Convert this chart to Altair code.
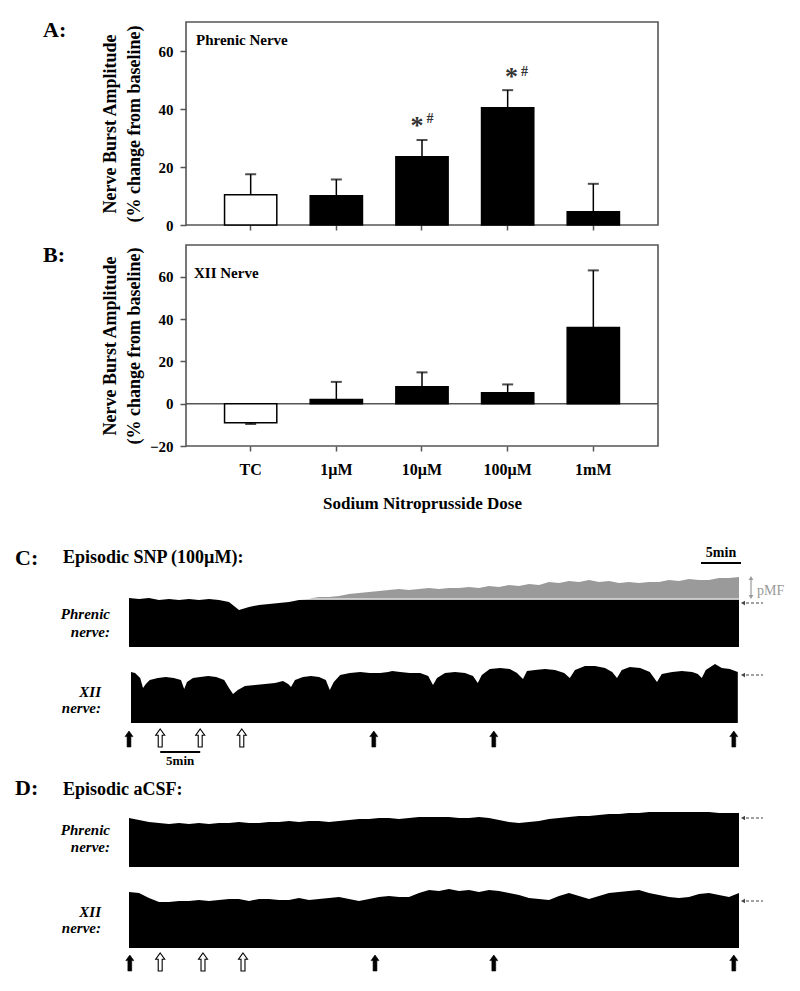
import altair as alt
import pandas as pd

W, H = 784, 975
OFF = 8
SERIF = "Liberation Serif"
FRAME = "#555555"

# ---------------- data: panels A & B ----------------
doses = ["TC", "1µM", "10µM", "100µM", "1mM"]
bar_fill = ["white", "black", "black", "black", "black"]
phrenic_mean = [10.4, 10.1, 23.5, 40.4, 4.6]
phrenic_sem = [7.1, 5.6, 5.8, 6.1, 9.6]
xii_mean = [-9.0, 2.0, 8.0, 5.2, 36.0]
xii_sem = [0.6, 8.3, 6.8, 3.9, 27.0]
sig_doses = ["10µM", "100µM"]
sig_star_y = [31.4, 48.3]
sig_hash_y = [35.2, 51.4]

# ---------------- data: traces (time in min, amplitude in a.u.) ----------------
grid_t = [0, 1.25, 2.5, 3.75, 5, 6.25, 7.5, 8.75, 10, 11.25, 12.5, 13.75, 15, 16.25,
          17.5, 18.75, 20, 21.25, 22.5, 23.75, 25, 26.25, 27.5, 28.75, 30, 31.25, 32.5,
          33.75, 35, 36.25, 37.5, 38.75, 40, 41.25, 42.5, 43.75, 45, 46.25, 47.5, 48.75,
          50, 51.25, 52.5, 53.75, 55, 56.25, 57.5, 58.75, 60, 61.25, 62.5, 63.75, 65,
          66.25, 67.5, 68.75, 70, 71.25, 72.5, 73.75, 75, 76.25]
phrenic_C = [49, 48, 49, 47, 48, 47, 48, 47, 48, 47, 45, 37, 40, 42, 43, 44, 45, 47, 48, 50,
             50, 51, 53, 54, 55, 56, 57, 58, 57, 58, 59, 58, 59, 59, 60, 59, 61, 60, 62, 61,
             63, 62, 65, 64, 66, 65, 67, 65, 66, 64, 65, 64, 65, 65, 67, 66, 68, 67, 67, 69,
             69, 70]
pmf_level = 48.0
pmf_start = 21.25
xii_C_t = [0.25, 0.75, 1.4, 1.75, 2.1, 2.6, 3.6, 4.6, 5.6, 6.5, 6.9, 7.25, 8.0, 8.9, 9.9,
           10.9, 11.9, 12.5, 13.0, 13.6, 14.5, 15.75, 17.0, 18.25, 19.25, 19.9, 20.25,
           20.75, 21.75, 22.75, 23.75, 24.6, 25.1, 25.6, 26.4, 27.6, 28.9, 30.1, 31.4,
           32.4, 32.9, 33.9, 35.1, 36.4, 37.4, 38.0, 38.5, 39.5, 40.75, 42.0, 43.0, 43.6,
           44.1, 45.1, 46.4, 47.6, 48.5, 49.25, 49.75, 50.75, 52.0, 53.25, 54.4, 55.1,
           55.75, 57.0, 58.25, 59.5, 60.4, 61.0, 61.6, 62.6, 63.9, 65.1, 66.0, 66.6, 67.9,
           69.1, 70.4, 71.1, 71.6, 72.1, 73.25, 74.1, 75.1, 76.1]
xii_C = [51, 50, 45, 35, 39, 43, 45, 46, 45, 43, 34, 41, 45, 46, 47, 46, 43, 35, 29, 33,
         37, 38, 39, 40, 42, 39, 36, 43, 46, 47, 46, 43, 33, 41, 48, 50, 51, 50, 50, 51,
         52, 51, 50, 50, 47, 38, 45, 50, 51, 50, 47, 40, 48, 54, 55, 54, 50, 44, 52, 53,
         54, 53, 50, 45, 53, 57, 57, 55, 51, 45, 53, 56, 55, 51, 41, 49, 51, 52, 51, 49,
         45, 53, 59, 55, 54, 51]
phrenic_D = [49, 47, 45, 44, 43, 44, 43, 44, 43, 44, 44, 45, 44, 44, 45, 45, 46, 45, 46, 46,
             45, 46, 47, 48, 48, 49, 49, 48, 49, 50, 50, 50, 50, 49, 49, 50, 49, 47, 45, 44,
             45, 46, 48, 49, 50, 51, 51, 52, 53, 53, 54, 54, 55, 55, 55, 55, 55, 55, 55, 54,
             54, 54]
xii_D = [56, 55, 50, 46, 46, 47, 47, 48, 47, 48, 49, 49, 47, 49, 49, 48, 48, 50, 48, 49,
         50, 51, 49, 47, 49, 51, 52, 51, 51, 55, 58, 57, 59, 57, 58, 56, 58, 57, 55, 53,
         50, 49, 48, 52, 55, 52, 49, 52, 55, 56, 57, 58, 55, 53, 51, 50, 51, 54, 55, 53,
         51, 55]
arrows_filled_C = [0.0, 30.6, 45.6, 75.6]
arrows_open_C = [3.9, 8.9, 14.1]
arrows_filled_D = [0.1, 30.75, 45.6, 75.6]
arrows_open_D = [3.9, 9.25, 14.25]

one = pd.DataFrame({"k": [0]})


# ---------------- helpers ----------------
def band():
    return alt.Scale(domain=doses, range=[178, 650], paddingInner=0.39, paddingOuter=0.45)


def yA():
    return alt.Scale(domain=[0, 70], range=[217, 14], nice=False)


def yB():
    return alt.Scale(domain=[-20, 75], range=[438, 237], nice=False)


def tscale():
    return alt.Scale(domain=[0, 76.25], range=[121, 731], nice=False, zero=False)


def amp(base_page):
    b = base_page - OFF
    return alt.Scale(domain=[0, 100], range=[b, b - 100], nice=False, zero=False)


def txt(s, x, y, size, align="left", italic=False, weight="bold", color="black"):
    return alt.Chart(one).mark_text(
        text=s, align=align, baseline="alphabetic", fontSize=size, font=SERIF,
        fontWeight=weight, fontStyle="italic" if italic else "normal", color=color
    ).encode(x=alt.value(x - OFF), y=alt.value(y - OFF))


def frame(y0, y1):
    return alt.Chart(one).mark_rect(fillOpacity=0, stroke=FRAME, strokeWidth=1.6).encode(
        x=alt.value(178), x2=alt.value(650), y=alt.value(y0 - OFF), y2=alt.value(y1 - OFF))


def bar_panel(means, sems, yscale_fn, x_axis):
    df = pd.DataFrame({"dose": doses, "mean": means, "err": sems, "fill": bar_fill})
    df["end"] = [m + (e if m >= 0 else -e) for m, e in zip(means, sems)]
    bars = alt.Chart(df).mark_bar(stroke="black", strokeWidth=1.5).encode(
        x=alt.X("dose:N", scale=band(), axis=x_axis),
        y=alt.Y("mean:Q", scale=yscale_fn(), axis=None),
        y2=alt.datum(0),
        fill=alt.Fill("fill:N", scale=None, legend=None),
    )
    rule = alt.Chart(df).mark_rule(color="black", strokeWidth=1.5).encode(
        x=alt.X("dose:N", scale=band(), axis=None),
        y=alt.Y("mean:Q", scale=yscale_fn(), axis=None),
        y2="end:Q",
    )
    cap = alt.Chart(df).mark_tick(color="black", thickness=2, size=11).encode(
        x=alt.X("dose:N", scale=band(), axis=None),
        y=alt.Y("end:Q", scale=yscale_fn(), axis=None),
    )
    return bars, rule, cap


def y_axis(values):
    return alt.Axis(
        orient="left", offset=-178, values=values, grid=False, domain=False,
        tickSize=6, tickColor=FRAME, tickWidth=1.5, labelPadding=7,
        labelFont=SERIF, labelFontSize=15, labelFontWeight="bold", labelColor="black",
        title=["Nerve Burst Amplitude", "(% change from baseline)"],
        titleFont=SERIF, titleFontSize=18, titleFontWeight="bold", titleColor="black",
        titleX=-71, titleBaseline="alphabetic", titleLineHeight=24,
    )


def y_axis_layer(yscale_fn, values):
    return alt.Chart(pd.DataFrame({"v": values})).mark_point(opacity=0).encode(
        y=alt.Y("v:Q", scale=yscale_fn(), axis=y_axis(values)))


layers = []

# ---------------- Panel A ----------------
axA_x = alt.Axis(orient="bottom", offset=217 - H, labels=False, title=None, domain=False,
                 tickSize=5, tickColor=FRAME, tickWidth=1.5, grid=False)
layers.append(frame(22, 225))
layers.extend(bar_panel(phrenic_mean, phrenic_sem, yA, axA_x))
layers.append(y_axis_layer(yA, [0, 20, 40, 60]))
dsig = pd.DataFrame({"dose": sig_doses, "s": sig_star_y, "h": sig_hash_y})
layers.append(alt.Chart(dsig).mark_text(
    text="*", fontSize=26, font=SERIF, fontWeight="bold", color="#333333", dx=-5,
    baseline="alphabetic").encode(
    x=alt.X("dose:N", scale=band(), axis=None), y=alt.Y("s:Q", scale=yA(), axis=None)))
layers.append(alt.Chart(dsig).mark_text(
    text="#", fontSize=14, font=SERIF, fontWeight="bold", color="#333333", dx=8,
    baseline="alphabetic").encode(
    x=alt.X("dose:N", scale=band(), axis=None), y=alt.Y("h:Q", scale=yA(), axis=None)))

# ---------------- Panel B ----------------
axB_x = alt.Axis(orient="bottom", offset=438 - H, domain=False, grid=False,
                 tickSize=5, tickColor=FRAME, tickWidth=1.5, labelPadding=10,
                 labelFont=SERIF, labelFontSize=16, labelFontWeight="bold", labelColor="black",
                 labelAngle=0,
                 title="Sodium Nitroprusside Dose", titleFont=SERIF, titleFontSize=17,
                 titleFontWeight="bold", titleColor="black", titleY=62,
                 titleBaseline="alphabetic")
layers.append(frame(245, 446))
layers.append(alt.Chart(one).mark_rule(color=FRAME, strokeWidth=1.5).encode(
    x=alt.value(178), x2=alt.value(650), y=alt.Y(datum=0, scale=yB(), axis=None)))
layers.extend(bar_panel(xii_mean, xii_sem, yB, axB_x))
layers.append(y_axis_layer(yB, [-20, 0, 20, 40, 60]))

# ---------------- Panels C & D: traces ----------------
dC = pd.DataFrame({"t": grid_t, "h": phrenic_C})
dC["black"] = [h if t < pmf_start else min(h, pmf_level - 0.8) for t, h in zip(grid_t, phrenic_C)]
dC["gray"] = [max(h, pmf_level + 0.6) for h in phrenic_C]
dC["gbase"] = pmf_level + 0.6
dCg = dC[dC["t"] >= pmf_start - 1.25]

layers.append(alt.Chart(dCg).mark_area(color="#9a9a9a", interpolate="linear").encode(
    x=alt.X("t:Q", scale=tscale(), axis=None),
    y=alt.Y("gray:Q", scale=amp(647), axis=None), y2="gbase:Q"))
layers.append(alt.Chart(dC).mark_area(color="black", interpolate="linear").encode(
    x=alt.X("t:Q", scale=tscale(), axis=None),
    y=alt.Y("black:Q", scale=amp(647), axis=None)))

dXC = pd.DataFrame({"t": xii_C_t, "h": xii_C})
layers.append(alt.Chart(dXC).mark_area(color="black", interpolate="linear").encode(
    x=alt.X("t:Q", scale=tscale(), axis=None), y=alt.Y("h:Q", scale=amp(723), axis=None)))

dPD = pd.DataFrame({"t": grid_t, "h": phrenic_D})
layers.append(alt.Chart(dPD).mark_area(color="black", interpolate="linear").encode(
    x=alt.X("t:Q", scale=tscale(), axis=None), y=alt.Y("h:Q", scale=amp(867), axis=None)))

dXD = pd.DataFrame({"t": grid_t, "h": xii_D})
layers.append(alt.Chart(dXD).mark_area(color="black", interpolate="linear").encode(
    x=alt.X("t:Q", scale=tscale(), axis=None), y=alt.Y("h:Q", scale=amp(948), axis=None)))

# arrows under traces
FILLED = "M0,-1L0.5,-0.3L0.24,-0.3L0.24,1L-0.24,1L-0.24,-0.3L-0.5,-0.3Z"
OPEN = "M0,-1L0.5,-0.3L0.22,-0.3L0.22,1L-0.22,1L-0.22,-0.3L-0.5,-0.3Z"


def arrow_layer(times, ypage, open_):
    m = alt.Chart(pd.DataFrame({"t": times})).mark_point(
        shape=OPEN if open_ else FILLED, size=324 if open_ else 256, filled=True,
        fill="white" if open_ else "black", stroke="black",
        strokeWidth=1.1 if open_ else 0.6, opacity=1)
    return m.encode(x=alt.X("t:Q", scale=tscale(), axis=None), y=alt.value(ypage - OFF))


layers.append(arrow_layer(arrows_filled_C, 739, False))
layers.append(arrow_layer(arrows_open_C, 738, True))
layers.append(arrow_layer(arrows_filled_D, 963, False))
layers.append(arrow_layer(arrows_open_D, 962, True))


# time scale bars (5 min)
def tbar(t0, t1, ypage):
    return alt.Chart(pd.DataFrame({"a": [t0], "b": [t1]})).mark_rule(
        color="black", strokeWidth=2).encode(
        x=alt.X("a:Q", scale=tscale(), axis=None), x2="b:Q", y=alt.value(ypage - OFF))


def ttext(s, t, ypage, size):
    return alt.Chart(pd.DataFrame({"t": [t]})).mark_text(
        text=s, align="center", baseline="alphabetic", fontSize=size, font=SERIF,
        fontWeight="bold", color="black").encode(
        x=alt.X("t:Q", scale=tscale(), axis=None), y=alt.value(ypage - OFF))


layers.append(tbar(71.5, 76.5, 563))
layers.append(ttext("5min", 74.0, 557, 14))
layers.append(tbar(3.9, 8.9, 752))
layers.append(ttext("5min", 6.4, 765, 13))


# dashed reference arrows at right
def ref_arrow(ypage):
    r = alt.Chart(one).mark_rule(color="#444444", strokeWidth=1.2, strokeDash=[3, 2]).encode(
        x=alt.value(746 - OFF), x2=alt.value(763 - OFF), y=alt.value(ypage - OFF))
    p = alt.Chart(one).mark_point(shape="triangle-left", filled=True, size=22,
                                  color="#444444", opacity=1).encode(
        x=alt.value(743 - OFF), y=alt.value(ypage - OFF))
    return [r, p]


for yy in (603, 675, 818, 901):
    layers.extend(ref_arrow(yy))

# pMF double arrow
layers.append(alt.Chart(one).mark_rule(color="#999999", strokeWidth=1.2).encode(
    x=alt.value(751 - OFF), y=alt.value(579 - OFF), y2=alt.value(596 - OFF)))
layers.append(alt.Chart(one).mark_point(shape="triangle-up", filled=True, size=22,
                                        color="#999999", opacity=1).encode(
    x=alt.value(751 - OFF), y=alt.value(578 - OFF)))
layers.append(alt.Chart(one).mark_point(shape="triangle-down", filled=True, size=22,
                                        color="#999999", opacity=1).encode(
    x=alt.value(751 - OFF), y=alt.value(597 - OFF)))

# ---------------- text ----------------
layers += [
    txt("A:", 43, 37, 22),
    txt("B:", 43, 262, 22),
    txt("Phrenic Nerve", 196, 45, 15),
    txt("XII Nerve", 194, 278, 15),
    txt("C:", 15, 565, 22),
    txt("Episodic SNP (100µM):", 63, 563, 18),
    txt("D:", 15, 795, 22),
    txt("Episodic aCSF:", 63, 795, 18),
    txt("Phrenic", 110, 619, 15, align="right", italic=True),
    txt("nerve:", 110, 637, 15, align="right", italic=True),
    txt("XII", 101, 697, 15, align="right", italic=True),
    txt("nerve:", 101, 713, 15, align="right", italic=True),
    txt("Phrenic", 110, 835, 15, align="right", italic=True),
    txt("nerve:", 110, 852, 15, align="right", italic=True),
    txt("XII", 101, 917, 15, align="right", italic=True),
    txt("nerve:", 101, 933, 15, align="right", italic=True),
    txt("pMF", 757, 595, 14, weight="normal", color="#999999"),
]

chart = alt.layer(*layers).resolve_scale(
    x="independent", y="independent"
).properties(
    width=W, height=H, autosize=alt.AutoSizeParams(type="none"), padding=0
).configure_view(strokeOpacity=0)

chart.save("out.html", embed_options={"renderer": "svg", "actions": False})
